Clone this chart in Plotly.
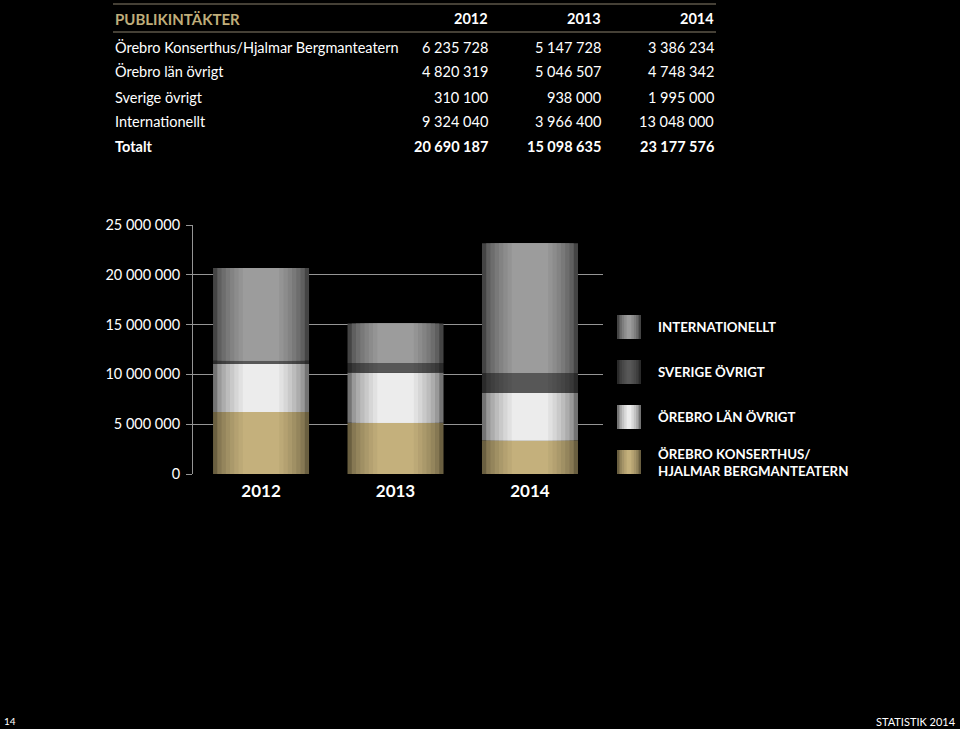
import numpy as np
import plotly.graph_objects as go

# Data from the table
years = ['2012', '2013', '2014']
konserthus = [6235728, 5147728, 3386234]
lan_ovrigt = [4820319, 5046507, 4748342]
sverige_ovrigt = [310100, 938000, 1995000]
internationellt = [9324040, 3966400, 13048000]
totalt = [20690187, 15098635, 23177576]

row_labels = ['Örebro Konserthus/Hjalmar Bergmanteatern', 'Örebro län övrigt',
              'Sverige övrigt', 'Internationellt']
legend_labels = ['INTERNATIONELLT', 'SVERIGE ÖVRIGT', 'ÖREBRO LÄN ÖVRIGT',
                 'ÖREBRO KONSERTHUS/<br>HJALMAR BERGMANTEATERN']

FONT = 'Lato'
W, H = 960, 729
L, R, T, B = 193, 603, 225, 474  # plot area in pixels


def px2x(p):
    return (p - L) / (R - L)


def py2y(p):
    return (B - p) / (B - T)


def fmt(v):
    return f"{v:,}".replace(",", " ")


def mix(c1, c2, t):
    a = [int(c1[i:i + 2], 16) for i in (1, 3, 5)]
    b = [int(c2[i:i + 2], 16) for i in (1, 3, 5)]
    return '#' + ''.join(f"{round(x + (y - x) * t):02x}" for x, y in zip(a, b))


series = [konserthus, lan_ovrigt, sverige_ovrigt, internationellt]
# edge colour and centre colour of each series (fake cylinder gradient)
edge_centre = [
    ('#6a5f40', '#c4b07c'),
    ('#737373', '#ececec'),
    ('#2a2a2a', '#575757'),
    ('#444444', '#9c9c9c'),
]
n_steps = 8
full_w = 0.714
widths = [full_w * (1 - 0.62 * k / (n_steps - 1)) for k in range(n_steps)]

fig = go.Figure()
bases = np.cumsum([np.zeros(3)] + [np.array(s) for s in series[:-1]], axis=0)
for s, base, (ce, cc) in zip(series, bases, edge_centre):
    for k, w in enumerate(widths):
        t = (k / (n_steps - 1)) ** 0.6
        fig.add_bar(x=years, y=s, base=base, width=w, marker_color=mix(ce, cc, t),
                    marker_line_width=0, showlegend=False, hoverinfo='skip')

annotations = []
shapes = []

# table on top
shapes.append(dict(type='line', xref='paper', yref='paper', x0=px2x(113), x1=px2x(716),
                   y0=py2y(4), y1=py2y(4), line=dict(color='#8a806c', width=1)))
shapes.append(dict(type='line', xref='paper', yref='paper', x0=px2x(113), x1=px2x(716),
                   y0=py2y(32), y1=py2y(32), line=dict(color='#8a806c', width=1)))
annotations.append(dict(text='PUBLIKINTÄKTER', x=px2x(113), y=py2y(19), xanchor='left',
                        font=dict(family=FONT, size=15, color='#bfad7a', weight='bold')))
col_right = [490, 603, 716]
for yr, cx in zip(years, col_right):
    annotations.append(dict(text=yr, x=px2x(cx), y=py2y(19), xanchor='right',
                            font=dict(family=FONT, size=14.5, color='white', weight='bold')))
rows_y = [47, 72, 97, 122]
for lab, s, ry in zip(row_labels, series, rows_y):
    annotations.append(dict(text=lab, x=px2x(113), y=py2y(ry), xanchor='left',
                            font=dict(family=FONT, size=14.5, color='white')))
    for v, cx in zip(s, col_right):
        annotations.append(dict(text=fmt(v), x=px2x(cx), y=py2y(ry), xanchor='right',
                                font=dict(family=FONT, size=14.5, color='white')))
annotations.append(dict(text='Totalt', x=px2x(113), y=py2y(146), xanchor='left',
                        font=dict(family=FONT, size=14.5, color='white', weight='bold')))
for v, cx in zip(totalt, col_right):
    annotations.append(dict(text=fmt(v), x=px2x(cx), y=py2y(146), xanchor='right',
                            font=dict(family=FONT, size=14.5, color='white', weight='bold')))

# custom legend, swatches with the same gradient
leg_top = [315, 360, 405, 450]
leg_cols = [edge_centre[3], edge_centre[2], edge_centre[1], edge_centre[0]]
for lab, top, (ce, cc) in zip(legend_labels, leg_top, leg_cols):
    for k in range(5):
        inset = k * 2.4
        shapes.append(dict(type='rect', xref='paper', yref='paper',
                           x0=px2x(617 + inset), x1=px2x(641 - inset),
                           y0=py2y(top + 24), y1=py2y(top),
                           fillcolor=mix(ce, cc, (k / 4) ** 0.6), line_width=0))
    annotations.append(dict(text=lab, x=px2x(656), y=py2y(top + 12), xanchor='left', align='left',
                            font=dict(family=FONT, size=13.3, color='white', weight='bold')))

# footer
annotations.append(dict(text='14', x=px2x(2), y=py2y(721), xanchor='left',
                        font=dict(family=FONT, size=10, color='white')))
annotations.append(dict(text='STATISTIK 2014', x=px2x(958), y=py2y(721), xanchor='right',
                        font=dict(family=FONT, size=11, color='white')))

for a in annotations:
    a.update(xref='paper', yref='paper', showarrow=False, yanchor='middle')

fig.update_layout(
    width=W, height=H, autosize=False,
    paper_bgcolor='black', plot_bgcolor='black',
    margin=dict(l=L, r=W - R, t=T, b=H - B, pad=0),
    barmode='overlay',
    separators=', ',
    showlegend=False,
    annotations=annotations,
    shapes=shapes,
    font=dict(family=FONT, color='white'),
    xaxis=dict(
        type='category', range=[-0.506, 2.543], showgrid=False, zeroline=False,
        showline=False, ticks='', ticklabelstandoff=5,
        tickfont=dict(family=FONT, size=17, color='white', weight='bold'),
        fixedrange=True,
    ),
    yaxis=dict(
        range=[0, 25000000], tickvals=[0, 5000000, 10000000, 15000000, 20000000, 25000000],
        tickformat=',d', showgrid=True, gridcolor='#959595', gridwidth=1,
        zeroline=False, showline=True, linecolor='#959595', linewidth=1,
        ticks='outside', ticklen=6, tickcolor='#959595', ticklabelstandoff=3,
        tickfont=dict(family=FONT, size=14.5, color='white'),
        fixedrange=True,
    ),
)

fig.write_html("out.html", config={'displayModeBar': False},
               post_script="document.body.style.margin='0';"
                           "document.body.style.overflow='hidden';"
                           "document.body.style.background='black';")
